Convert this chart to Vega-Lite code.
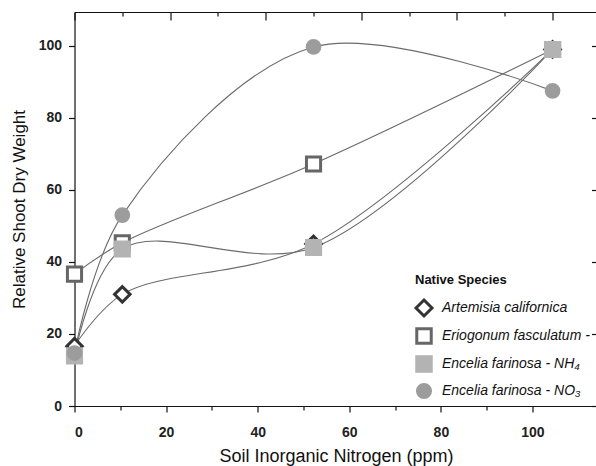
{
  "$schema": "https://vega.github.io/schema/vega-lite/v6.json",
  "width": 523,
  "height": 394,
  "autosize": {"type": "none"},
  "padding": {"left": 74.5, "top": 12, "right": 0, "bottom": 60},
  "background": "white",
  "config": {
    "view": {"stroke": null},
    "font": "Liberation Sans",
    "axis": {
      "grid": false,
      "domainColor": "#111111",
      "tickColor": "#111111",
      "labelFont": "Liberation Sans",
      "titleFont": "Liberation Sans",
      "labelColor": "#222222",
      "titleColor": "#111111",
      "domainWidth": 1.2,
      "tickWidth": 1.2
    }
  },
  "data": {
    "values": [
      {"species": "Artemisia californica", "n": 0, "w": 16.6},
      {"species": "Artemisia californica", "n": 10, "w": 31},
      {"species": "Artemisia californica", "n": 50, "w": 45},
      {"species": "Artemisia californica", "n": 100, "w": 99},
      {"species": "Eriogonum fasculatum -", "n": 0, "w": 36.6},
      {"species": "Eriogonum fasculatum -", "n": 10, "w": 45.3},
      {"species": "Eriogonum fasculatum -", "n": 50, "w": 67.2},
      {"species": "Eriogonum fasculatum -", "n": 100, "w": 99},
      {"species": "Encelia farinosa - NH₄", "n": 0, "w": 13.9},
      {"species": "Encelia farinosa - NH₄", "n": 10, "w": 43.6},
      {"species": "Encelia farinosa - NH₄", "n": 50, "w": 44},
      {"species": "Encelia farinosa - NH₄", "n": 100, "w": 99},
      {"species": "Encelia farinosa - NO₃", "n": 0, "w": 14.7},
      {"species": "Encelia farinosa - NO₃", "n": 10, "w": 53},
      {"species": "Encelia farinosa - NO₃", "n": 50, "w": 99.7},
      {"species": "Encelia farinosa - NO₃", "n": 100, "w": 87.5}
    ]
  },
  "resolve": {
    "scale": {"x": "independent", "y": "independent"},
    "axis": {"x": "independent", "y": "independent"}
  },
  "layer": [
    {
      "layer": [
        {
          "mark": {"type": "line", "interpolate": "catmull-rom", "color": "#6b6b6b", "strokeWidth": 1.1},
          "encoding": {
            "x": {
              "field": "n", "type": "quantitative",
              "scale": {"domain": [0, 109.4], "nice": false, "zero": false},
              "axis": {
                "orient": "top",
                "values": [0, 10, 20, 30, 40, 50, 60, 70, 80, 90, 100],
                "labels": false,
                "title": null,
                "tickSize": {"condition": {"test": "datum.value % 20 === 0", "value": -8}, "value": -4}
              }
            },
            "y": {
              "field": "w", "type": "quantitative",
              "scale": {"domain": [0, 109.4], "nice": false, "zero": false},
              "axis": {
                "orient": "left",
                "values": [0, 10, 20, 30, 40, 50, 60, 70, 80, 90, 100],
                "labelExpr": "datum.value % 20 === 0 ? datum.label : ''",
                "tickSize": {"condition": {"test": "datum.value % 20 === 0", "value": 6}, "value": 4},
                "labelFontSize": 14,
                "labelFontWeight": "bold",
                "labelPadding": 7,
                "title": "Relative Shoot Dry Weight",
                "titleFontSize": 17,
                "titleFontWeight": "normal",
                "titlePadding": 10
              }
            },
            "detail": {"field": "species"}
          }
        },
        {
          "mark": {"type": "point", "filled": true, "strokeWidth": 3, "opacity": 1, "size": 200},
          "encoding": {
            "x": {"field": "n", "type": "quantitative"},
            "y": {"field": "w", "type": "quantitative"},
            "shape": {
              "field": "species", "type": "nominal",
              "scale": {
                "domain": ["Artemisia californica", "Eriogonum fasculatum -", "Encelia farinosa - NH₄", "Encelia farinosa - NO₃"],
                "range": ["M-1.1,0L0,-1.1L1.1,0L0,1.1Z", "square", "square", "M0.9,0A0.9,0.9,0,1,1,-0.9,0A0.9,0.9,0,1,1,0.9,0Z"]
              },
              "legend": {
                "title": "Native Species",
                "orient": "none",
                "legendX": 340.5,
                "legendY": 262,
                "titleFontSize": 13,
                "titleFontWeight": "bold",
                "titleColor": "#111111",
                "titlePadding": 12,
                "labelFontSize": 14,
                "labelFontStyle": "italic",
                "labelColor": "#111111",
                "labelOffset": 9,
                "rowPadding": 0,
                "symbolSize": 210,
                "symbolStrokeWidth": 3
              }
            },
            "fill": {
              "field": "species", "type": "nominal",
              "scale": {
                "domain": ["Artemisia californica", "Eriogonum fasculatum -", "Encelia farinosa - NH₄", "Encelia farinosa - NO₃"],
                "range": ["#ffffff", "#ffffff", "#b3b3b3", "#9c9c9c"]
              },
              "legend": {"title": "Native Species"}
            },
            "stroke": {
              "field": "species", "type": "nominal",
              "scale": {
                "domain": ["Artemisia californica", "Eriogonum fasculatum -", "Encelia farinosa - NH₄", "Encelia farinosa - NO₃"],
                "range": ["#333333", "#666666", "#b3b3b3", "#9c9c9c"]
              },
              "legend": {"title": "Native Species"}
            }
          }
        }
      ]
    },
    {
      "mark": {"type": "point", "opacity": 0},
      "encoding": {
        "x": {
          "field": "n", "type": "quantitative",
          "scale": {"domain": [0, 114.2], "nice": false, "zero": false},
          "axis": {
            "orient": "bottom",
            "values": [0, 10, 20, 30, 40, 50, 60, 70, 80, 90, 100],
            "labelExpr": "datum.value % 20 === 0 ? datum.label : ''",
            "tickSize": {"condition": {"test": "datum.value % 20 === 0", "value": 6}, "value": 4},
            "labelFontSize": 14,
            "labelFontWeight": "bold",
            "labelPadding": 13,
            "title": "Soil Inorganic Nitrogen (ppm)",
            "titleFontSize": 18,
            "titleFontWeight": "normal",
            "titlePadding": 8
          }
        },
        "y": {
          "field": "w", "type": "quantitative",
          "scale": {"domain": [0, 109.4], "nice": false, "zero": false},
          "axis": {
            "orient": "right",
            "values": [0, 20, 40, 60, 80, 100],
            "labels": false,
            "title": null,
            "tickSize": -6
          }
        }
      }
    }
  ]
}
